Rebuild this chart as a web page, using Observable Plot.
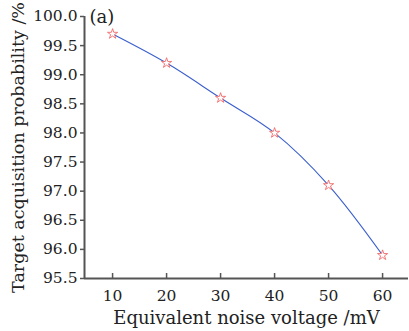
<!DOCTYPE html>
<html>
<head>
<meta charset="utf-8">
<script src="https://cdn.jsdelivr.net/npm/d3@7"></script>
<script src="https://cdn.jsdelivr.net/npm/@observablehq/plot@0.6"></script>
<style>
  html, body { margin: 0; padding: 0; background: #fff; }
  svg { display: block; }
</style>
</head>
<body>
<div id="chart"></div>
<script>
const voltage = [10, 20, 30, 40, 50, 60];
const probability = [99.7, 99.2, 98.6, 98.0, 97.1, 95.9];
const xTicks = [10, 20, 30, 40, 50, 60];
const yTicks = [95.5, 96.0, 96.5, 97.0, 97.5, 98.0, 98.5, 99.0, 99.5, 100.0];
const xLabel = "Equivalent noise voltage /mV";
const yLabel = "Target acquisition probability /%";
const panelLabel = "(a)";

const data = voltage.map((v, i) => ({v, p: probability[i]}));
const font = "DejaVu Serif, serif";
const axisColor = "#555";

const chart = Plot.plot({
  width: 409,
  height: 331,
  marginLeft: 84,
  marginTop: 16,
  marginBottom: 53,
  marginRight: 1,
  style: {fontFamily: font, fontSize: "15px", color: "#222", background: "#fff"},
  x: {domain: [4.8, 64.8]},
  y: {domain: [95.5, 100.0]},
  marks: [
    Plot.axisX({ticks: xTicks, tickSize: -5, tickPadding: 16, tickFormat: d => d, label: null, stroke: axisColor, strokeWidth: 1.5, fill: "#222", fontSize: 15.5}),
    Plot.axisY({ticks: yTicks, tickSize: 4, tickPadding: 3, tickFormat: d3.format(".1f"), label: null, stroke: axisColor, strokeWidth: 1.5, fill: "#222", fontSize: 15.5}),
    Plot.ruleX([4.8], {stroke: axisColor, strokeWidth: 2}),
    Plot.ruleY([95.5], {stroke: axisColor, strokeWidth: 2}),
    Plot.line(data, {x: "v", y: "p", curve: "catmull-rom", stroke: "#3a5fcd", strokeWidth: 1.1}),
    Plot.dot(data, {x: "v", y: "p", symbol: "star", r: 3.2, fill: "white", stroke: "#f26a6a", strokeWidth: 0.9}),
    Plot.text([panelLabel], {frameAnchor: "top-left", dx: 5, dy: 1, textAnchor: "start", lineAnchor: "middle", fontSize: 18, fill: "#222"}),
    Plot.text([xLabel], {frameAnchor: "bottom", dy: 40, textAnchor: "middle", lineAnchor: "middle", fontSize: 18, fill: "#222"}),
    Plot.text([yLabel], {frameAnchor: "left", dx: -66, rotate: -90, textAnchor: "middle", lineAnchor: "middle", fontSize: 17.5, fill: "#222"})
  ]
});
document.getElementById("chart").appendChild(chart);
</script>
</body>
</html>
